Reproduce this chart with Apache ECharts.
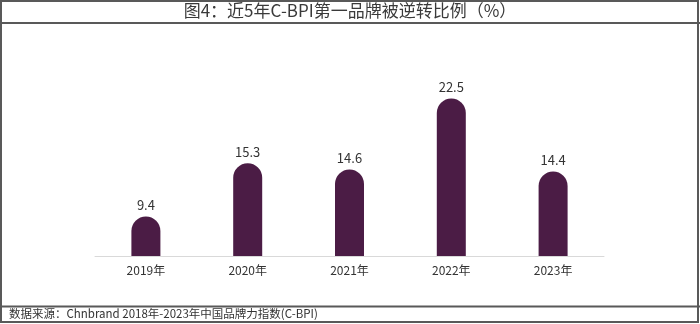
<!DOCTYPE html>
<html>
<head>
<meta charset="utf-8">
<script src="https://cdn.jsdelivr.net/npm/echarts@6/dist/echarts.min.js"></script>
<style>
  html, body { margin: 0; padding: 0; background: #fff; }
  #chart { width: 700px; height: 324px; }
</style>
</head>
<body>
<div id="chart"></div>
<script>
// Share of C-BPI first-place brands overtaken, by year (%)
const years = ['2019年', '2020年', '2021年', '2022年', '2023年'];
const ratios = [9.4, 15.3, 14.6, 22.5, 14.4];
const titleText = '图4：近5年C-BPI第一品牌被逆转比例（%）';
const sourceText = '数据来源：Chnbrand 2018年-2023年中国品牌力指数(C-BPI)';

const chart = echarts.init(document.getElementById('chart'), null, { renderer: 'canvas' });
const font = '"Noto Sans CJK SC", "Noto Sans", sans-serif';
const frame = '#595959';

chart.setOption({
  backgroundColor: '#ffffff',
  animation: false,
  graphic: [
    // outer frame
    { type: 'rect', shape: { x: 1, y: 1, width: 697, height: 321 },
      style: { fill: null, stroke: frame, lineWidth: 2 }, z: 10 },
    // title separator
    { type: 'line', shape: { x1: 0, y1: 23, x2: 700, y2: 23 },
      style: { stroke: frame, lineWidth: 2 }, z: 10 },
    // footer separator
    { type: 'line', shape: { x1: 0, y1: 306.5, x2: 700, y2: 306.5 },
      style: { stroke: frame, lineWidth: 2 }, z: 10 },
    { type: 'text', left: 'center', top: 2,
      style: { text: titleText, font: '17px ' + font, fill: '#3a3a3a' }, z: 11 },
    { type: 'text', left: 9, top: 308,
      style: { text: sourceText, font: '11.5px ' + font, fill: '#333333' }, z: 11 }
  ],
  grid: { left: 95, right: 96, top: 31, bottom: 68, containLabel: false },
  xAxis: {
    type: 'category',
    data: years,
    axisLine: { lineStyle: { color: '#d9d9d9', width: 1 } },
    axisTick: { show: false },
    axisLabel: { color: '#333333', fontSize: 12, fontFamily: font, margin: 8 }
  },
  yAxis: {
    type: 'value',
    min: 5,
    max: 30,
    show: false,
    splitLine: { show: false }
  },
  series: [{
    type: 'bar',
    data: ratios,
    barWidth: 29,
    itemStyle: { color: '#4b1c45', borderRadius: [14.5, 14.5, 0, 0] },
    label: {
      show: true,
      position: 'top',
      distance: 5,
      color: '#333333',
      fontSize: 13,
      fontFamily: font
    }
  }]
});
</script>
</body>
</html>
